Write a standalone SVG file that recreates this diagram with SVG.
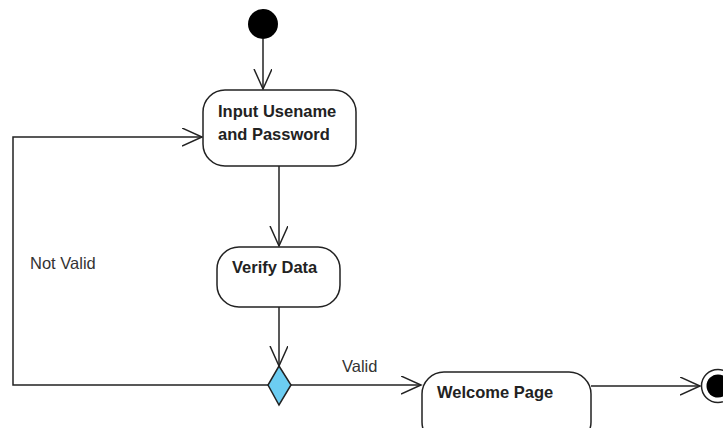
<svg xmlns="http://www.w3.org/2000/svg" width="723" height="428" viewBox="0 0 723 428">
<defs>
<style>
.node{fill:#fff;stroke:#222;stroke-width:1.5}
.edge{fill:none;stroke:#222;stroke-width:1.5}
.lbl{font-family:"Liberation Sans",Arial,sans-serif;font-size:16.5px;font-weight:bold;fill:#222}
.el{font-family:"Liberation Sans",Arial,sans-serif;font-size:16.5px;fill:#333}
</style>
<marker id="arr" markerUnits="userSpaceOnUse" markerWidth="22" markerHeight="20" refX="20" refY="9" orient="auto">
<path d="M0,0 L20,9 L0,18" fill="none" stroke="#222" stroke-width="1.5"/>
</marker>
</defs>
<rect width="723" height="428" fill="#fff"/>
<g id="connectors">
<line class="edge" x1="263" y1="39" x2="263" y2="89" marker-end="url(#arr)"/>
<line class="edge" x1="279" y1="166" x2="279" y2="246" marker-end="url(#arr)"/>
<line class="edge" x1="279" y1="307" x2="279" y2="366" marker-end="url(#arr)"/>
<polyline class="edge" points="268,385 13,385 13,137 202,137" marker-end="url(#arr)"/>
<line class="edge" x1="291" y1="385" x2="421" y2="385" marker-end="url(#arr)"/>
<line class="edge" x1="591" y1="386" x2="700" y2="386" marker-end="url(#arr)"/>
<text class="el" x="30" y="269">Not Valid</text>
<text class="el" x="342" y="372">Valid</text>
</g>
<g id="start">
<circle cx="263" cy="24" r="15" fill="#000"/>
</g>
<g id="input">
<rect class="node" x="203" y="90" width="153" height="76" rx="22"/>
<text class="lbl" x="218" y="117">Input Usename</text>
<text class="lbl" x="218" y="140">and Password</text>
</g>
<g id="verify">
<rect class="node" x="217" y="247" width="123" height="60" rx="22"/>
<text class="lbl" x="232" y="273">Verify Data</text>
</g>
<g id="decision">
<polygon points="279,366 291,385 279,405 268,385" fill="#6ccdf2" stroke="#222" stroke-width="1.5"/>
</g>
<g id="welcome">
<rect class="node" x="422" y="372" width="169" height="72" rx="22"/>
<text class="lbl" x="437" y="398">Welcome Page</text>
</g>
<g id="final">
<circle cx="718" cy="386" r="16.5" fill="#fff" stroke="#222" stroke-width="1.5"/>
<circle cx="718" cy="386" r="11.5" fill="#000"/>
</g>
</svg>
